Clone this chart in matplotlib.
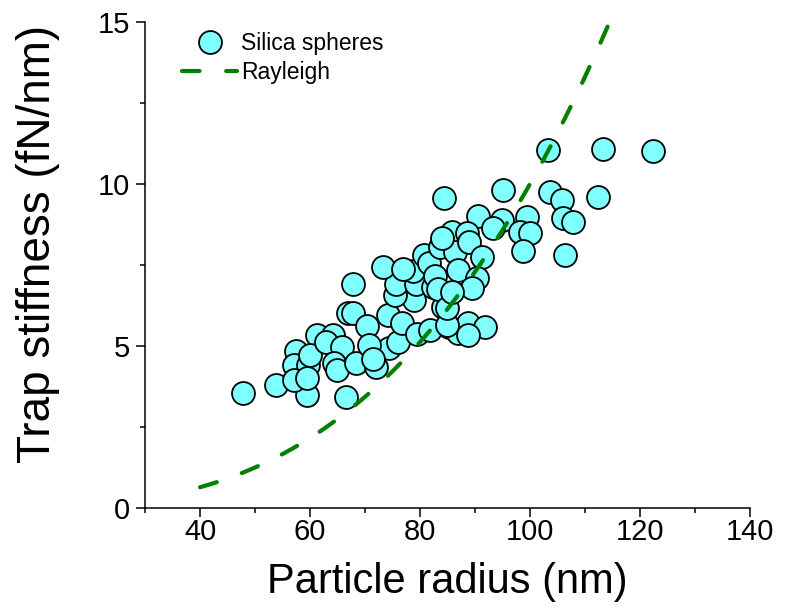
import numpy as np
import matplotlib
matplotlib.use('Agg')
import matplotlib.pyplot as plt
from matplotlib.ticker import MultipleLocator

plt.rcParams['font.family'] = ['Liberation Sans', 'DejaVu Sans']

# measured silica spheres: radius (nm), trap stiffness (fN/nm)
radius = [47.8, 53.8, 59.5, 57.5, 57.1, 59.6, 57.1, 59.5, 61.3, 60.0,
          64.2, 62.9, 65.8, 64.4, 64.9, 66.5, 66.9, 67.8, 67.8, 74.2,
          70.4, 68.4, 72.0, 74.4, 70.7, 71.5, 76.0, 76.7, 79.5, 81.8,
          84.2, 78.9, 75.5, 75.6, 79.3, 82.4, 85.3, 86.9, 73.3, 78.7,
          76.9, 80.7, 81.6, 82.7, 83.6, 85.8, 86.4, 83.3, 84.0, 84.4,
          95.1, 103.6, 105.8, 106.0, 90.5, 94.9, 99.5, 93.3, 98.2, 100.0,
          98.7, 88.5, 88.9, 91.3, 86.9, 90.4, 89.5, 106.4, 88.7, 91.8,
          88.7, 84.9, 84.9, 85.8, 103.3, 113.3, 122.4, 112.4, 107.8]
stiffness = [3.55, 3.80, 3.49, 4.85, 4.41, 4.41, 3.95, 4.01, 5.34, 4.72,
             5.34, 5.12, 4.97, 4.48, 4.26, 3.43, 6.02, 6.02, 6.91, 5.96,
             5.62, 4.48, 4.35, 4.94, 5.03, 4.60, 5.12, 5.71, 5.37, 5.49,
             6.20, 6.42, 6.57, 6.91, 6.91, 6.82, 5.59, 5.40, 7.44, 7.31,
             7.38, 7.81, 7.56, 7.16, 8.06, 8.52, 7.90, 6.76, 8.33, 9.57,
             9.81, 9.75, 9.51, 8.95, 9.01, 8.89, 8.98, 8.64, 8.52, 8.49,
             7.93, 8.49, 8.21, 7.75, 7.35, 7.10, 6.79, 7.81, 5.71, 5.59,
             5.34, 5.65, 6.17, 6.67, 11.05, 11.08, 11.02, 9.60, 8.83]

# Rayleigh model: stiffness grows with the cube of the radius
rayleigh_coef = 1.0e-5   # fN/nm per nm^3
r_model = np.linspace(40, 115, 200)
k_model = rayleigh_coef * r_model ** 3

fig = plt.figure(figsize=(7.86, 6.10), dpi=100)
ax = fig.add_axes([145 / 786, 1 - 508 / 610, 605 / 786, 486 / 610])

ax.plot(radius, stiffness, 'o', ms=16.5, mfc='#80FFFF', mec='black',
        mew=1.3, label='Silica spheres', zorder=2)
ax.plot(r_model, k_model, color='#008000', lw=3, ls=(0, (4.2, 6.4)),
        dash_capstyle='round', label='Rayleigh', zorder=3)

ax.set_xlim(30, 140)
ax.set_ylim(0, 15)
ax.xaxis.set_minor_locator(MultipleLocator(10))
ax.yaxis.set_major_locator(MultipleLocator(5))
ax.yaxis.set_minor_locator(MultipleLocator(2.5))
ax.set_xticks([40, 60, 80, 100, 120, 140])

for side in ['top', 'right']:
    ax.spines[side].set_visible(False)
for side in ['left', 'bottom']:
    ax.spines[side].set_linewidth(1.1)

ax.tick_params(which='major', direction='out', length=6.5, width=1.1,
               labelsize=21)
ax.tick_params(which='minor', direction='out', length=3.5, width=1.1)
ax.tick_params(axis='x', which='major', pad=0.5)
ax.tick_params(axis='y', which='major', pad=4.5)

ax.set_xlabel('Particle radius (nm)', fontsize=30, labelpad=12)
ax.set_ylabel('Trap stiffness (fN/nm)', fontsize=33)
ax.yaxis.set_label_coords(-0.14, 0.544)

ax.legend(loc='upper left', bbox_to_anchor=(0.035, 1.012), frameon=False,
          fontsize=16.5, handlelength=2.4, handletextpad=0.15,
          labelspacing=0.25, numpoints=1, borderaxespad=0.3)

fig.savefig('out.png', dpi=100)
